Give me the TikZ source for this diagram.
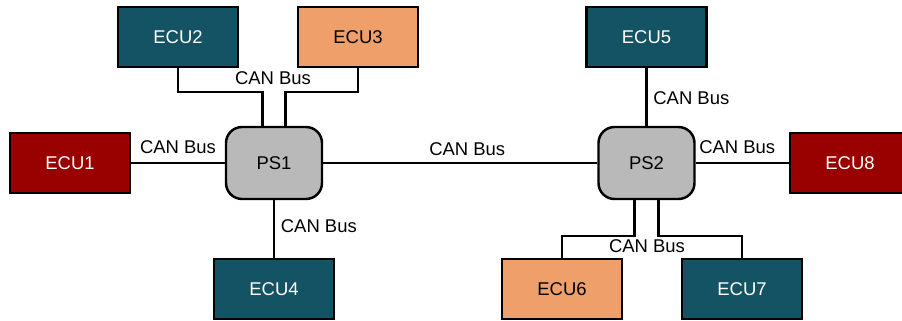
\documentclass[tikz,border=0pt]{standalone}
\usepackage{fontspec}
\setmainfont{Liberation Sans}
\usepackage{tikz}
\usetikzlibrary{shapes.geometric}
\usepackage{xcolor}
\definecolor{ecuteal}{RGB}{20,83,100}
\definecolor{ecured}{RGB}{153,0,0}
\definecolor{ecuorange}{RGB}{239,160,106}
\definecolor{psgray}{RGB}{185,185,185}

\begin{document}
\begin{tikzpicture}[line width=1.2pt,
	                    font=\fontsize{10.5}{12}\selectfont,
	                    ecu node/.style={rectangle,draw,line width=1.4pt,minimum width=2.4cm,minimum height=1.2cm},
	                    ps node/.style={rectangle,rounded corners=0.32cm,draw,line width=1.4pt,fill=psgray,minimum width=1.92cm,minimum height=1.44cm}]
		\useasboundingbox (0,0) rectangle (18.04,-6.4);
		% Nodes
		  % Switch 1
		  \node (PS1) at (5.48, -3.26) [ps node] {PS1};
		  \node (ECU1) at (1.4, -3.26) [ecu node,fill=ecured,text=white] {ECU1};
		  \node (ECU2) at (3.56, -0.74) [ecu node,fill=ecuteal,text=white] {ECU2};
		  \node (ECU3) at (7.16, -0.74) [ecu node,fill=ecuorange] {ECU3};
		  \node (ECU4) at (5.48, -5.78) [ecu node,fill=ecuteal,text=white] {ECU4};
		  
		  % Switch 2
		  \node (PS2) at (12.93, -3.26) [ps node] {PS2};
		  \node (ECU5) at (12.93, -0.74) [ecu node,fill=ecuteal,text=white] {ECU5};
		  \node (ECU6) at (11.24, -5.78) [ecu node,fill=ecuorange] {ECU6};
		  \node (ECU7) at (14.84, -5.78) [ecu node,fill=ecuteal,text=white] {ECU7};
		  \node (ECU8) at (17.0, -3.26) [ecu node,fill=ecured,text=white] {ECU8};
		  
		  % Bus labels
		  \node (bus23) at (5.46, -1.56) {CAN Bus};
		  \node (bus67) at (12.94, -4.92) {CAN Bus};
		
		% Edges
		  \draw (ECU1) -- node[above,yshift=0.04cm] (bus1) {CAN Bus} (PS1);
		  \draw (ECU2.south) -- ++(0,-0.48) -| ([xshift=-0.23cm]PS1.north);
		  \draw (ECU3.south) -- ++(0,-0.48) -| ([xshift=0.23cm]PS1.north);
		  \draw (PS1) -- node[right,yshift=0.06cm] (bus4) {CAN Bus} (ECU4);
		  \draw (PS1) -- node[above,xshift=0.14cm] (bus12) {CAN Bus} (PS2);
		  
		  \draw (ECU5) -- node[right,yshift=-0.02cm] (bus5) {CAN Bus} (PS2);
		  \draw (PS2) -- node[above,xshift=-0.1cm,yshift=0.04cm] (bus8) {CAN Bus} (ECU8);
		  \draw ([xshift=-0.24cm]PS2.south) -- ++(0,-0.72) -| (ECU6.north);
		  \draw ([xshift=0.24cm]PS2.south) -- ++(0,-0.72) -| (ECU7.north);
		  
		\end{tikzpicture}
\end{document}
